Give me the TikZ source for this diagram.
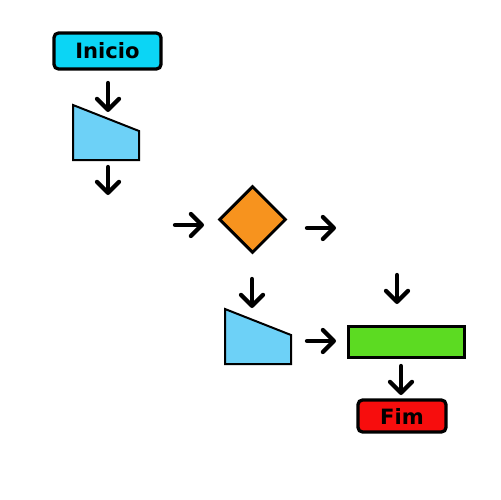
\documentclass[tikz,border=0pt]{standalone}
\usepackage{fontspec}
\setmainfont{DejaVu Sans}
\usetikzlibrary{arrows.meta,shapes.geometric}
\definecolor{cstart}{HTML}{0BD5F5}
\definecolor{cinput}{HTML}{6DD1F7}
\definecolor{cdec}{HTML}{F7931E}
\definecolor{cproc}{HTML}{5CDB22}
\definecolor{cend}{HTML}{F70D0D}
\begin{document}
\begin{tikzpicture}[x=0.02cm,y=-0.02cm,
  term/.style={draw=black,line width=0.065cm,rounded corners=0.09cm,inner sep=0pt,font=\fontsize{12}{14}\selectfont\bfseries},
  procbox/.style={draw=black,line width=0.06cm,inner sep=0pt,fill=cproc},
  decbox/.style={draw=black,line width=0.06cm,inner sep=0pt,fill=cdec,diamond,minimum width=1.34cm,minimum height=1.34cm},
  manin/.style={draw=black,line width=0.04cm,fill=cinput,line join=miter},
  flow/.style={line width=0.085cm,line cap=round,-{Straight Barb[length=0.22cm,width=0.44cm,round]}}]
\useasboundingbox (0,0) rectangle (500,500);
% terminals
\node[term,fill=cstart,minimum width=2.14cm,minimum height=0.72cm] (inicio) at (107.5,51) {Inicio};
\node[term,fill=cend,minimum width=1.76cm,minimum height=0.64cm] (fim) at (402,416) {Fim};
% manual inputs
\draw[manin] (73,105) -- (139,131) -- (139,160) -- (73,160) -- cycle;
\coordinate (in1) at (106,135);
\draw[manin] (225,309) -- (291,335) -- (291,364) -- (225,364) -- cycle;
\coordinate (in2) at (258,339);
% decision
\node[decbox] (dec) at (252.5,219.5) {};
% process
\node[procbox,minimum width=2.34cm,minimum height=0.62cm] (proc) at (406.5,341.5) {};
% arrow end points
\coordinate (a1s) at (108,83); \coordinate (a1e) at (108,112);
\coordinate (a2s) at (108,167); \coordinate (a2e) at (108,195);
\coordinate (a3s) at (175,225); \coordinate (a3e) at (204,225);
\coordinate (a4s) at (307,228); \coordinate (a4e) at (336,228);
\coordinate (a5s) at (252,279); \coordinate (a5e) at (252,308);
\coordinate (a6s) at (307,341); \coordinate (a6e) at (336,341);
\coordinate (a7s) at (397,275); \coordinate (a7e) at (397,304);
\coordinate (a8s) at (401,366); \coordinate (a8e) at (401,395);
\foreach \i in {1,...,8} \draw[flow] (a\i s) -- (a\i e);
\end{tikzpicture}
\end{document}
